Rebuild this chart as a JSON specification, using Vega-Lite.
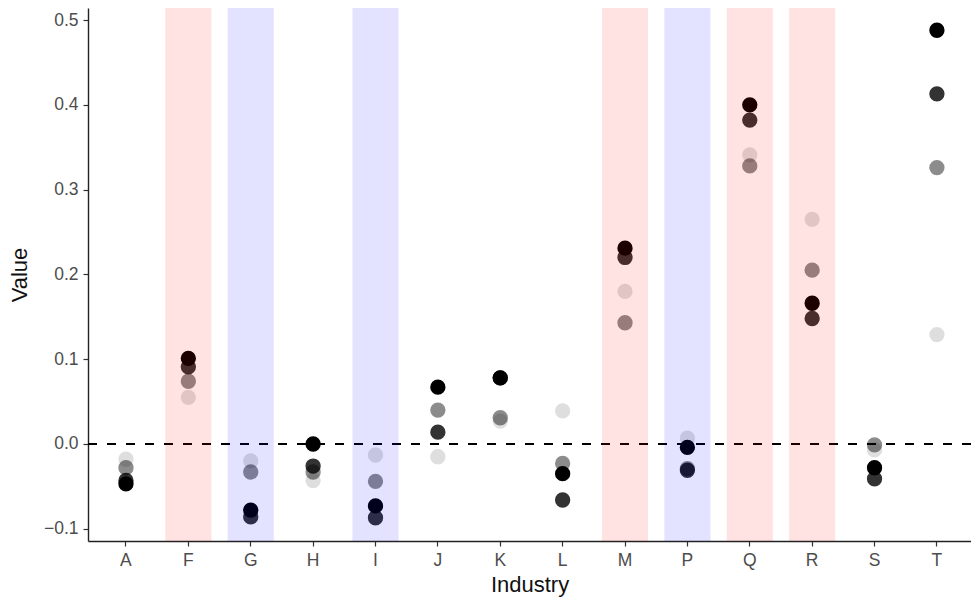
{
  "$schema": "https://vega.github.io/schema/vega-lite/v6.json",
  "width": 883,
  "height": 533,
  "autosize": {"type": "none"},
  "padding": {"left": 88, "top": 8, "right": 0, "bottom": 64},
  "background": "white",
  "config": {
    "view": {"stroke": null},
    "font": "Liberation Sans",
    "axis": {
      "grid": false,
      "domainColor": "#222222",
      "domainWidth": 1.4,
      "tickColor": "#333333",
      "tickWidth": 1.2,
      "tickSize": 5,
      "labelColor": "#4d4d4d",
      "labelFontSize": 17.5,
      "labelFont": "Liberation Sans",
      "titleFont": "Liberation Sans",
      "titleFontSize": 22,
      "titleFontWeight": "normal",
      "titleColor": "#111111"
    }
  },
  "datasets": {
    "points": [
      {"industry": "A", "series": "s4", "value": -0.018},
      {"industry": "A", "series": "s3", "value": -0.028},
      {"industry": "A", "series": "s2", "value": -0.043},
      {"industry": "A", "series": "s1", "value": -0.047},
      {"industry": "F", "series": "s4", "value": 0.055},
      {"industry": "F", "series": "s3", "value": 0.074},
      {"industry": "F", "series": "s2", "value": 0.091},
      {"industry": "F", "series": "s1", "value": 0.101},
      {"industry": "G", "series": "s4", "value": -0.02},
      {"industry": "G", "series": "s3", "value": -0.033},
      {"industry": "G", "series": "s2", "value": -0.086},
      {"industry": "G", "series": "s1", "value": -0.078},
      {"industry": "H", "series": "s4", "value": -0.043},
      {"industry": "H", "series": "s3", "value": -0.033},
      {"industry": "H", "series": "s2", "value": -0.026},
      {"industry": "H", "series": "s1", "value": 0.0},
      {"industry": "I", "series": "s4", "value": -0.013},
      {"industry": "I", "series": "s3", "value": -0.044},
      {"industry": "I", "series": "s2", "value": -0.087},
      {"industry": "I", "series": "s1", "value": -0.073},
      {"industry": "J", "series": "s4", "value": -0.015},
      {"industry": "J", "series": "s3", "value": 0.040},
      {"industry": "J", "series": "s2", "value": 0.014},
      {"industry": "J", "series": "s1", "value": 0.067},
      {"industry": "K", "series": "s4", "value": 0.027},
      {"industry": "K", "series": "s3", "value": 0.031},
      {"industry": "K", "series": "s2", "value": 0.078},
      {"industry": "K", "series": "s1", "value": 0.078},
      {"industry": "L", "series": "s4", "value": 0.039},
      {"industry": "L", "series": "s3", "value": -0.023},
      {"industry": "L", "series": "s2", "value": -0.066},
      {"industry": "L", "series": "s1", "value": -0.035},
      {"industry": "M", "series": "s4", "value": 0.180},
      {"industry": "M", "series": "s3", "value": 0.143},
      {"industry": "M", "series": "s2", "value": 0.220},
      {"industry": "M", "series": "s1", "value": 0.231},
      {"industry": "P", "series": "s4", "value": 0.007},
      {"industry": "P", "series": "s3", "value": -0.029},
      {"industry": "P", "series": "s2", "value": -0.031},
      {"industry": "P", "series": "s1", "value": -0.004},
      {"industry": "Q", "series": "s4", "value": 0.341},
      {"industry": "Q", "series": "s3", "value": 0.328},
      {"industry": "Q", "series": "s2", "value": 0.382},
      {"industry": "Q", "series": "s1", "value": 0.400},
      {"industry": "R", "series": "s4", "value": 0.265},
      {"industry": "R", "series": "s3", "value": 0.205},
      {"industry": "R", "series": "s2", "value": 0.148},
      {"industry": "R", "series": "s1", "value": 0.166},
      {"industry": "S", "series": "s4", "value": -0.007},
      {"industry": "S", "series": "s3", "value": -0.001},
      {"industry": "S", "series": "s2", "value": -0.041},
      {"industry": "S", "series": "s1", "value": -0.028},
      {"industry": "T", "series": "s4", "value": 0.129},
      {"industry": "T", "series": "s3", "value": 0.326},
      {"industry": "T", "series": "s2", "value": 0.413},
      {"industry": "T", "series": "s1", "value": 0.488}
    ],
    "bands": [
      {"industry": "F", "tone": "red"},
      {"industry": "G", "tone": "blue"},
      {"industry": "I", "tone": "blue"},
      {"industry": "M", "tone": "red"},
      {"industry": "P", "tone": "blue"},
      {"industry": "Q", "tone": "red"},
      {"industry": "R", "tone": "red"}
    ],
    "zero": [{"value": 0}]
  },
  "encoding": {
    "x": {
      "field": "industry",
      "type": "nominal",
      "sort": ["A", "F", "G", "H", "I", "J", "K", "L", "M", "P", "Q", "R", "S", "T"],
      "scale": {
        "domain": ["A", "F", "G", "H", "I", "J", "K", "L", "M", "P", "Q", "R", "S", "T"],
        "paddingInner": 0.26,
        "paddingOuter": 0.2075,
        "align": 0.575
      },
      "axis": {"title": "Industry", "labelAngle": 0, "labelPadding": 5, "titlePadding": 6}
    }
  },
  "layer": [
    {
      "data": {"name": "points"},
      "mark": {"type": "circle", "size": 235, "color": "black", "fillOpacity": 1},
      "encoding": {
        "y": {
          "field": "value",
          "type": "quantitative",
          "scale": {"domain": [-0.1144, 0.5142], "nice": false, "zero": false},
          "axis": {
            "title": "Value",
            "values": [-0.1, 0, 0.1, 0.2, 0.3, 0.4, 0.5],
            "format": ".1f",
            "labelPadding": 5,
            "titlePadding": 12
          }
        },
        "opacity": {
          "field": "series",
          "type": "ordinal",
          "scale": {"type": "ordinal", "domain": ["s4", "s3", "s2", "s1"], "range": [0.13, 0.45, 0.8, 1]},
          "legend": null
        },
        "order": {"field": "series", "sort": "descending"}
      }
    },
    {
      "data": {"name": "zero"},
      "mark": {"type": "rule", "color": "black", "strokeWidth": 1.8, "strokeDash": [9, 10]},
      "encoding": {
        "y": {"field": "value", "type": "quantitative"},
        "x": {"value": 0},
        "x2": {"value": {"expr": "width"}}
      }
    },
    {
      "data": {"name": "bands"},
      "mark": {"type": "rect", "opacity": 0.11},
      "encoding": {
        "fill": {
          "field": "tone",
          "type": "nominal",
          "scale": {"domain": ["red", "blue"], "range": ["#ff0000", "#0000ff"]},
          "legend": null
        }
      }
    }
  ]
}
